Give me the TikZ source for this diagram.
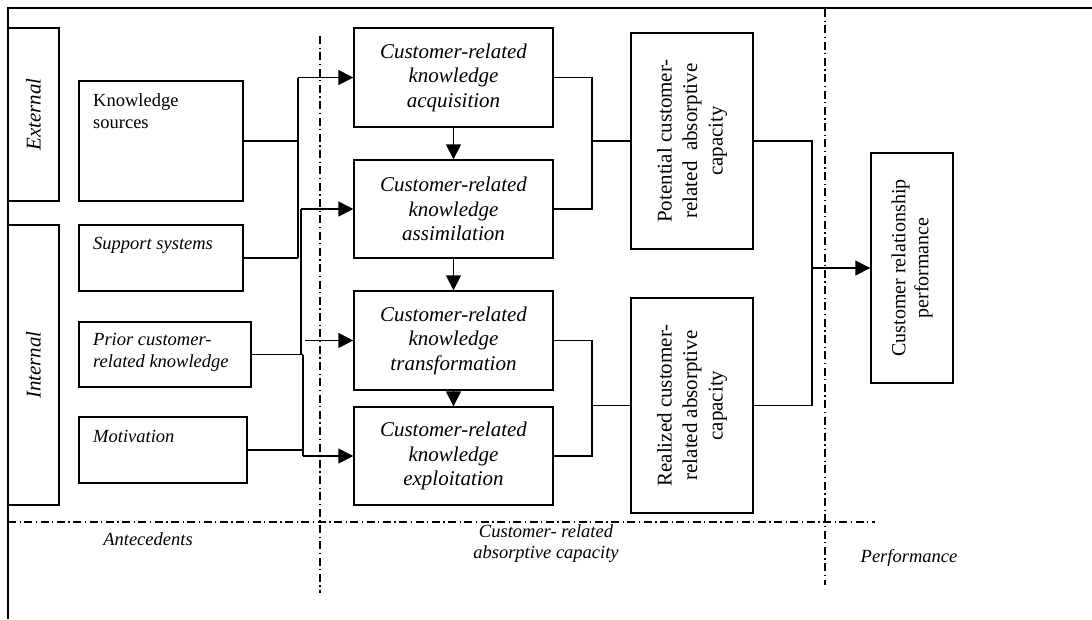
\documentclass[tikz,border=0pt]{standalone}
\usepackage{fontspec}
\setmainfont{Liberation Serif}
\usetikzlibrary{arrows.meta}
\begin{document}
\begin{tikzpicture}[x=1pt,y=-1pt,
  box/.style={draw, line width=1.4pt, inner sep=0pt},
  proc/.style={box, minimum width=199pt, align=center, font=\fontsize{21}{24.5}\selectfont\itshape},
  capbox/.style={box, rotate=90, align=center, font=\fontsize{21}{25.5}\selectfont},
  side/.style={box, rotate=90, minimum height=51pt, font=\fontsize{21}{25}\selectfont\itshape},
  lbl/.style={inner sep=0pt, align=left, font=\fontsize{18.5}{21.5}\selectfont},
  zone/.style={inner sep=0pt, align=center, font=\fontsize{18.5}{21}\selectfont\itshape},
  wire/.style={line width=1.4pt},
  arr/.style={line width=1.4pt, -{Triangle[length=15pt,width=15pt]}},
  dashdot/.style={line width=1.4pt, dash pattern=on 8pt off 3.5pt on 1.3pt off 3.5pt},
]
\useasboundingbox (0,0) rectangle (1092,619);
% frame
\coordinate (fbl) at (8,619);
\coordinate (ftl) at (8,8);
\coordinate (ftr) at (1092,8);
\draw[line width=1.4pt] (fbl) -- (ftl) -- (ftr);

% side boxes
\node[side, minimum width=173pt] (ext) at (33.5,114.5) {External};
\node[side, minimum width=280pt] (int) at (33.5,365) {Internal};

% antecedent boxes
\node[box, minimum width=164pt, minimum height=120pt] (ks) at (161,141) {};
\node[box, minimum width=164pt, minimum height=66pt] (ss) at (161,258) {};
\node[box, minimum width=172pt, minimum height=65pt] (pk) at (165,354.5) {};
\node[box, minimum width=168pt, minimum height=66pt] (mo) at (163,450) {};
\node[lbl, anchor=base west] (kst) at (93,128) {Knowledge\\sources};
\node[lbl, anchor=base west, font=\fontsize{18.5}{21.5}\selectfont\itshape] (sst) at (93,249) {Support systems};
\node[lbl, anchor=base west, font=\fontsize{18.5}{21.5}\selectfont\itshape] (pkt) at (93,367) {Prior customer-\\related knowledge};
\node[lbl, anchor=base west, font=\fontsize{18.5}{21.5}\selectfont\itshape] (mot) at (93,442) {Motivation};

% process boxes
\node[proc, minimum height=99pt] (acq) at (453.5,77.5) {Customer-related\\knowledge\\acquisition};
\node[proc, minimum height=98pt] (asm) at (453.5,209) {Customer-related\\knowledge\\assimilation};
\node[proc, minimum height=99pt] (trf) at (453.5,340.5) {Customer-related\\knowledge\\transformation};
\node[proc, minimum height=98pt] (exl) at (453.5,456) {Customer-related\\knowledge\\exploitation};

% capacity boxes (rotated: north = left side, south = right side)
\node[capbox, minimum width=216pt, minimum height=122pt] (pot) at (692,141) {Potential customer-\\related\ \ absorptive\\capacity};
\node[capbox, minimum width=215pt, minimum height=122pt] (rea) at (692,405.5) {Realized customer-\\related absorptive\\capacity};
\node[capbox, minimum width=230pt, minimum height=82pt, font=\fontsize{20}{23}\selectfont] (crp) at (912,268) {Customer relationship\\performance};

% left buses
\coordinate (b1t) at (298,77.5);
\coordinate (b1m) at (298,141);
\coordinate (b1b) at (298,258);
\coordinate (b2t) at (301,209);
\coordinate (b2b) at (301,354.5);
\coordinate (b3t) at (303,354.5);
\coordinate (b3m) at (303,450);
\coordinate (b3b) at (303,456);
\coordinate (tin) at (305,340.5);
\draw[wire] (ks.east) -- (b1m);
\draw[wire] (ss.east) -- (b1b);
\draw[wire] (b1t) -- (b1b);
\draw[wire, line width=2.2pt] (b2t) -- (b2b);
\draw[wire] (pk.east) -- (b3t);
\draw[wire, line width=2.2pt] (b3t) -- (b3b);
\draw[wire] (mo.east) -- (b3m);
\draw[arr] (b1t) -- (acq.west);
\draw[arr] (b2t) -- (asm.west);
\draw[arr] (tin) -- (trf.west);
\draw[arr] (b3b) -- (exl.west);

% process chain
\draw[arr] (acq.south) -- (asm.north);
\draw[arr] (asm.south) -- (trf.north);
\draw[arr] (trf.south) -- (exl.north);

% right brackets
\coordinate (r1t) at (592,77.5);
\coordinate (r1m) at (592,141);
\coordinate (r1b) at (592,209);
\coordinate (r2t) at (592,340.5);
\coordinate (r2m) at (592,405.5);
\coordinate (r2b) at (592,456);
\draw[wire] (acq.east) -- (r1t) -- (r1b) -- (asm.east);
\draw[wire] (r1m) -- (pot.north);
\draw[wire] (trf.east) -- (r2t) -- (r2b) -- (exl.east);
\draw[wire] (r2m) -- (rea.north);
\coordinate (p1) at (812,141);
\coordinate (p2) at (812,405.5);
\coordinate (pm) at (812,268);
\draw[wire] (pot.south) -- (p1) -- (p2) -- (rea.south);
\draw[arr] (pm) -- (crp.north);

% zone separators
\coordinate (v1a) at (320,36);
\coordinate (v1b) at (320,593);
\coordinate (v2a) at (825,9);
\coordinate (v2b) at (825,585);
\coordinate (ha) at (8,522);
\coordinate (hb) at (875,522);
\draw[dashdot] (v1a) -- (v1b);
\draw[dashdot] (v2a) -- (v2b);
\draw[dashdot] (ha) -- (hb);

% zone labels
\node[zone, anchor=base] (zant) at (148,545) {Antecedents};
\node[zone, anchor=base] (zcap) at (546,558) {Customer- related\\absorptive capacity};
\node[zone, anchor=base] (zper) at (909,562) {Performance};
\end{tikzpicture}
\end{document}
